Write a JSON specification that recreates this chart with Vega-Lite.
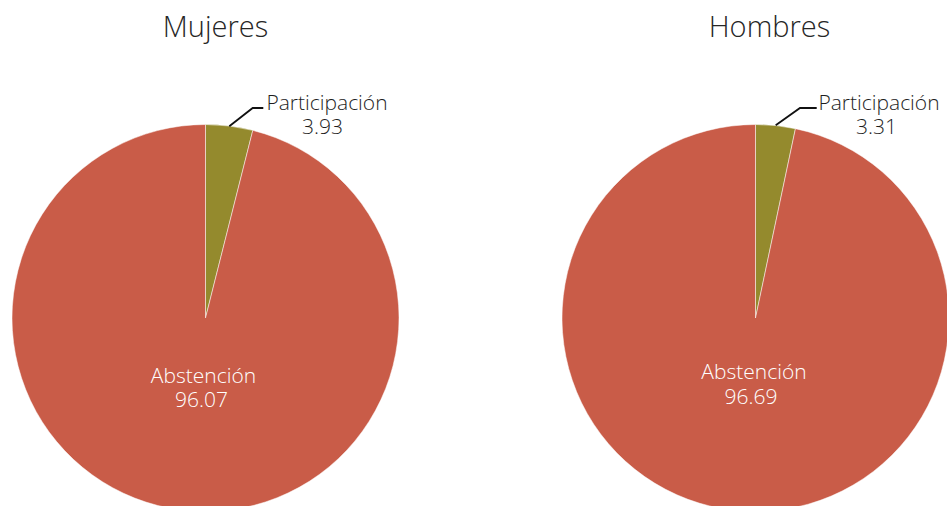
{
  "$schema": "https://vega.github.io/schema/vega-lite/v6.json",
  "background": "white",
  "padding": {"left": 0, "top": 14, "right": 0, "bottom": 34},
  "spacing": 139,
  "data": {
    "values": [
      {"grupo": "Mujeres", "categoria": "Participación", "valor": 3.93},
      {"grupo": "Mujeres", "categoria": "Abstención", "valor": 96.07},
      {"grupo": "Hombres", "categoria": "Participación", "valor": 3.31},
      {"grupo": "Hombres", "categoria": "Abstención", "valor": 96.69}
    ]
  },
  "hconcat": [
    {
      "title": {"text": "Mujeres", "dx": 10, "offset": 50},
      "width": 411,
      "height": 380,
      "transform": [{"filter": "datum.grupo === 'Mujeres'"}],
      "layer": [
        {
          "mark": {"type": "arc", "radius": 193.5, "stroke": "#ffffff", "strokeWidth": 0.5},
          "encoding": {
            "theta": {"field": "valor", "type": "quantitative", "stack": true},
            "order": {"field": "categoria", "sort": "descending"},
            "color": {"field": "categoria", "type": "nominal", "scale": {"domain": ["Participación", "Abstención"], "range": ["#948a2d", "#c95c48"]}, "legend": null}
          }
        },
        {
          "transform": [{"filter": "datum.categoria === 'Participación'"}],
          "mark": {"type": "point", "shape": "M0.238,-1.917L0.472,-2.1L0.578,-2.1", "size": 40000, "filled": false, "stroke": "#111111", "strokeWidth": 1.8, "opacity": 1},
          "encoding": {}
        },
        {
          "transform": [{"filter": "datum.categoria === 'Participación'"}],
          "mark": {"type": "text", "dx": 121.5, "dy": -208, "baseline": "alphabetic", "align": "center", "color": "#1e1e1e"},
          "encoding": {"text": {"field": "categoria"}}
        },
        {
          "transform": [{"filter": "datum.categoria === 'Participación'"}],
          "mark": {"type": "text", "dx": 117, "dy": -184.5, "baseline": "alphabetic", "align": "center", "color": "#1e1e1e"},
          "encoding": {"text": {"field": "valor", "type": "quantitative", "format": ".2f"}}
        },
        {
          "transform": [{"filter": "datum.categoria === 'Abstención'"}],
          "mark": {"type": "text", "dx": -2, "dy": 65, "baseline": "alphabetic", "align": "center", "color": "#ffffff"},
          "encoding": {"text": {"field": "categoria"}}
        },
        {
          "transform": [{"filter": "datum.categoria === 'Abstención'"}],
          "mark": {"type": "text", "dx": -4, "dy": 89, "baseline": "alphabetic", "align": "center", "color": "#ffffff"},
          "encoding": {"text": {"field": "valor", "type": "quantitative", "format": ".2f"}}
        }
      ]
    },
    {
      "title": {"text": "Hombres", "dx": 14, "offset": 50},
      "width": 411,
      "height": 380,
      "transform": [{"filter": "datum.grupo === 'Hombres'"}],
      "layer": [
        {
          "mark": {"type": "arc", "radius": 193.5, "stroke": "#ffffff", "strokeWidth": 0.5},
          "encoding": {
            "theta": {"field": "valor", "type": "quantitative", "stack": true},
            "order": {"field": "categoria", "sort": "descending"},
            "color": {"field": "categoria", "type": "nominal", "scale": {"domain": ["Participación", "Abstención"], "range": ["#948a2d", "#c95c48"]}, "legend": null}
          }
        },
        {
          "transform": [{"filter": "datum.categoria === 'Participación'"}],
          "mark": {"type": "point", "shape": "M0.202,-1.927L0.445,-2.1L0.612,-2.1", "size": 40000, "filled": false, "stroke": "#111111", "strokeWidth": 1.8, "opacity": 1},
          "encoding": {}
        },
        {
          "transform": [{"filter": "datum.categoria === 'Participación'"}],
          "mark": {"type": "text", "dx": 123.5, "dy": -208, "baseline": "alphabetic", "align": "center", "color": "#1e1e1e"},
          "encoding": {"text": {"field": "categoria"}}
        },
        {
          "transform": [{"filter": "datum.categoria === 'Participación'"}],
          "mark": {"type": "text", "dx": 121, "dy": -184.5, "baseline": "alphabetic", "align": "center", "color": "#1e1e1e"},
          "encoding": {"text": {"field": "valor", "type": "quantitative", "format": ".2f"}}
        },
        {
          "transform": [{"filter": "datum.categoria === 'Abstención'"}],
          "mark": {"type": "text", "dx": -1.5, "dy": 61, "baseline": "alphabetic", "align": "center", "color": "#ffffff"},
          "encoding": {"text": {"field": "categoria"}}
        },
        {
          "transform": [{"filter": "datum.categoria === 'Abstención'"}],
          "mark": {"type": "text", "dx": -4.5, "dy": 86, "baseline": "alphabetic", "align": "center", "color": "#ffffff"},
          "encoding": {"text": {"field": "valor", "type": "quantitative", "format": ".2f"}}
        }
      ]
    }
  ],
  "config": {
    "view": {"stroke": null},
    "font": "Open Sans",
    "title": {"font": "Open Sans", "fontSize": 29, "fontWeight": 300, "color": "#262626", "anchor": "middle"},
    "text": {"font": "Open Sans", "fontSize": 21, "fontWeight": 300}
  }
}
